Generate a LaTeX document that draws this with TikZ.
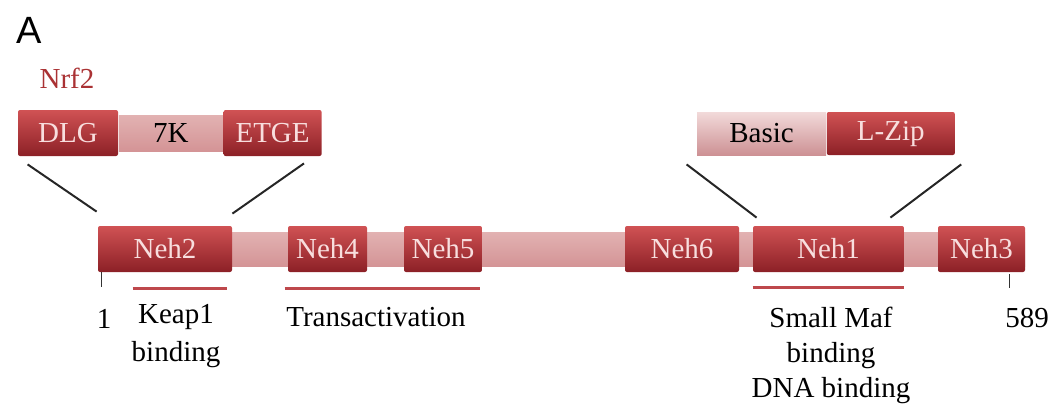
\documentclass[tikz,border=0pt]{standalone}
\usepackage{fontspec}
\setmainfont{LiberationSerif}[Extension=.ttf,UprightFont=*-Regular,BoldFont=*-Bold]
\newfontfamily\panelfont{Liberation Sans}
\usetikzlibrary{positioning,calc}

\definecolor{nrfred}{RGB}{188,52,58}
\definecolor{domtop}{RGB}{208,82,84}
\definecolor{domdark}{RGB}{140,32,38}
\definecolor{domtext}{RGB}{248,222,222}
\definecolor{linktop}{RGB}{226,178,178}
\definecolor{linkmid}{RGB}{250,238,238}
\definecolor{linkbot}{RGB}{212,148,150}
\definecolor{basictop}{RGB}{242,218,218}
\definecolor{basicbot}{RGB}{205,145,148}
\definecolor{underred}{RGB}{190,72,76}
\definecolor{nrflabel}{RGB}{170,50,52}

\begin{document}
\begin{tikzpicture}[x=0.5pt,y=-0.5pt,
    font=\fontsize{14.5}{18}\selectfont,
    dom/.style={rectangle,rounded corners=1pt,inner sep=0pt,minimum height=23pt,
      text=domtext,top color=domtop,middle color=nrfred,bottom color=domdark},
    link/.style={rectangle,inner sep=0pt,minimum height=17pt,
      top color=linktop,middle color=linkmid,bottom color=linkbot},
    lightdom/.style={rectangle,inner sep=0pt,minimum height=21.5pt,
      top color=basictop,middle color=linktop,bottom color=basicbot},
    zoomline/.style={draw=black!85,line width=1pt},
    region/.style={draw=underred,line width=1.5pt},
    tick/.style={draw=black!80,line width=0.8pt}]
  \useasboundingbox (0,0) rectangle (1050,408);

  % panel letter and protein name
  \node (panel) at (29,30) {\panelfont\fontsize{19}{22}\selectfont A};
  \node[text=nrflabel] (nrf) at (67,78) {Nrf2};

  % Neh2 close-up
  \node[dom,minimum width=50pt] (dlg) at (68,133) {DLG};
  \node[link,minimum width=52pt,minimum height=18pt,right=0pt of dlg] (sevenk) {7K};
  \node[dom,minimum width=49pt,right=0pt of sevenk] (etge) {ETGE};

  % Neh1 close-up
  \node[lightdom,minimum width=64.5pt] (basic) at (761.5,133.5) {Basic};
  \node[dom,minimum width=64pt,minimum height=21.5pt,right=0pt of basic] (lzip) {L-Zip};

  % full length protein
  \node[link,minimum width=463.5pt] (chain) at (561.5,249) {};
  \node[dom,minimum width=67pt] (neh2) at (165,249) {Neh2};
  \node[dom,minimum width=39.5pt] (neh4) at (327.5,249) {Neh4};
  \node[dom,minimum width=39pt] (neh5) at (443,249) {Neh5};
  \node[dom,minimum width=57pt] (neh6) at (682,249) {Neh6};
  \node[dom,minimum width=75.5pt] (neh1) at (828.5,249) {Neh1};
  \node[dom,minimum width=43.5pt] (neh3) at (981.5,249) {Neh3};

  % zoom lines
  \draw[zoomline] ($(dlg.south west)+(10,8)$) -- ($(neh2.north west)+(-1,-14)$);
  \draw[zoomline] ($(etge.south east)+(-18,7)$) -- ($(neh2.north east)+(0,-12)$);
  \draw[zoomline] ($(basic.south west)+(-10,9)$) -- ($(neh1.north west)+(4,-8)$);
  \draw[zoomline] ($(lzip.south east)+(6,9)$) -- ($(neh1.north east)+(-14,-8)$);

  % residue ticks
  \draw[tick] ($(neh2.south west)+(4,0)$) -- ($(neh2.south west)+(4,15)$);
  \draw[tick] ($(neh3.south east)+(-16,2)$) -- ($(neh3.south east)+(-16,16)$);
  \node (first) at (104,319) {1};
  \node (last) at (1027,318) {589};

  % functional regions
  \draw[region] ($(neh2.south west)+(35,16)$) -- ($(neh2.south east)+(-5,16)$);
  \draw[region] ($(neh4.south west)+(-3,16)$) -- ($(neh5.south east)+(-2,16)$);
  \draw[region] ($(neh1.south west)+(0,15)$) -- ($(neh1.south east)+(0,15)$);
  \node[align=center,font=\fontsize{14.5}{19}\selectfont] (keap) at (176,336) {Keap1\\binding};
  \node (trans) at (376,317) {Transactivation};
  \node[align=center,font=\fontsize{14.5}{17.5}\selectfont] (maf) at (831,355) {Small Maf\\binding\\DNA binding};
\end{tikzpicture}
\end{document}
